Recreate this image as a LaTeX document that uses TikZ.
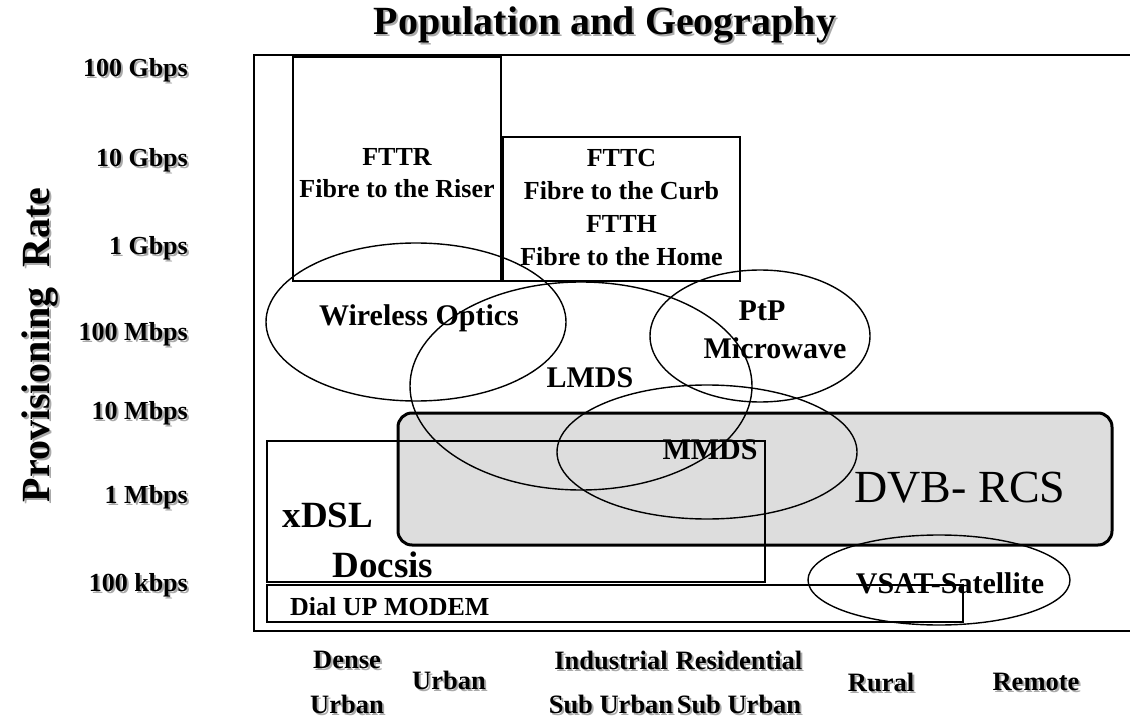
\documentclass[tikz,border=0pt]{standalone}
\usepackage{fontspec}
\setmainfont{Liberation Serif}
\usetikzlibrary{shapes.geometric}
\definecolor{dvbgray}{RGB}{221,221,221}
\definecolor{shadowgray}{RGB}{170,170,170}
\newcommand{\shnode}[4][]{%
  \node[#1, text=shadowgray] at ([xshift=2pt,yshift=-2pt]#3) {#4};%
  \node[#1] (#2) at (#3) {#4};}
\begin{document}
\begin{tikzpicture}[x=1pt,y=-1pt,
  box/.style={draw, line width=1.5pt, inner sep=0, rectangle},
  oval/.style={draw, ellipse, line width=1.4pt, inner sep=0},
  lab/.style={font=\bfseries\fontsize{26}{32}\selectfont, align=center, inner sep=0},
  ovlab/.style={font=\bfseries\fontsize{30}{37}\selectfont, align=center, inner sep=0},
  biglab/.style={font=\bfseries\fontsize{37}{40}\selectfont, inner sep=0},
  axislab/.style={font=\bfseries\fontsize{26}{30}\selectfont, inner sep=0, anchor=east},
  geolab/.style={font=\bfseries\fontsize{26.5}{30}\selectfont, inner sep=0},
  titlelab/.style={font=\bfseries\fontsize{40}{44}\selectfont, inner sep=0},
]
\useasboundingbox (0,0) rectangle (1130,722);

% frame (open on the right)
\coordinate (ftr) at (1130,55);
\coordinate (ftl) at (254,55);
\coordinate (fbl) at (254,631);
\coordinate (fbr) at (1130,631);
\draw[line width=1.5pt] (ftr) -- (ftl) -- (fbl) -- (fbr);

% title and axis titles
\shnode[titlelab, anchor=base]{title}{605,35}{Population and Geography}
\shnode[titlelab, rotate=90]{yaxis}{40,345}{Provisioning\ \ Rate}

% rate labels
\shnode[axislab]{r1}{188,70}{100 Gbps}
\shnode[axislab]{r2}{188,160}{10 Gbps}
\shnode[axislab]{r3}{188,248}{1 Gbps}
\shnode[axislab]{r4}{188,334}{100 Mbps}
\shnode[axislab]{r5}{188,413}{10 Mbps}
\shnode[axislab]{r6}{188,497}{1 Mbps}
\shnode[axislab]{r7}{188,585}{100 kbps}

% geography labels
\shnode[geolab]{g1a}{347,660}{Dense}
\shnode[geolab]{g1b}{347,704}{Urban}
\shnode[geolab]{g2}{449,680}{Urban}
\shnode[geolab]{g3a}{611,660}{Industrial}
\shnode[geolab]{g3b}{611,704}{Sub Urban}
\shnode[geolab]{g4a}{739,660}{Residential}
\shnode[geolab]{g4b}{739,704}{Sub Urban}
\shnode[geolab]{g5}{881,682}{Rural}
\shnode[geolab]{g6}{1036,682}{Remote}

% fibre boxes
\node[box, minimum width=208pt, minimum height=224pt] (fttrbox) at (397,169) {};
\node[box, minimum width=237pt, minimum height=144pt] (fttcbox) at (621.5,209) {};
\node[lab] (fttr) at (397,173) {FTTR\\Fibre to the Riser};
\node[lab, font=\bfseries\fontsize{26}{33}\selectfont] (fttc) at (621.5,208) {FTTC\\Fibre to the Curb\\FTTH\\Fibre to the Home};

% DVB-RCS
\node[draw, line width=3pt, rounded corners=14pt, fill=dvbgray, inner sep=0,
      minimum width=714pt, minimum height=132pt] (dvb) at (755,479) {};
\node[font=\fontsize{46}{50}\selectfont, inner sep=0] (dvblab) at (960,488) {DVB- RCS};

% xDSL / Docsis and dial-up boxes
\node[box, minimum width=498pt, minimum height=141pt] (xdslbox) at (516,511.5) {};
\node[box, minimum width=696pt, minimum height=37pt] (dialbox) at (615,603.5) {};
\node[biglab] (xdsl) at (328,515) {xDSL};
\node[biglab] (docsis) at (383,565) {Docsis};
\node[lab, anchor=west] (dial) at (290,607) {Dial UP MODEM};

% wireless ellipses
\node[oval, minimum width=300pt, minimum height=158pt] (wo) at (416,322) {};
\node[oval, minimum width=342pt, minimum height=208pt] (lmds) at (581,386) {};
\node[oval, minimum width=220pt, minimum height=132pt] (ptp) at (760,336) {};
\node[oval, minimum width=300pt, minimum height=134pt] (mmds) at (707,452) {};
\node[oval, minimum width=262pt, minimum height=90pt] (vsat) at (939,580) {};

\node[ovlab] (wolab) at (419,318) {Wireless Optics};
\node[ovlab] (lmdslab) at (590,378) {LMDS};
\node[ovlab] (ptplab) at (762,311) {PtP};
\node[ovlab] (mwlab) at (775,348) {Microwave};
\node[ovlab] (mmdslab) at (710,450) {MMDS};
\node[ovlab] (vsatlab) at (950,583) {VSAT-Satellite};
\end{tikzpicture}
\end{document}
